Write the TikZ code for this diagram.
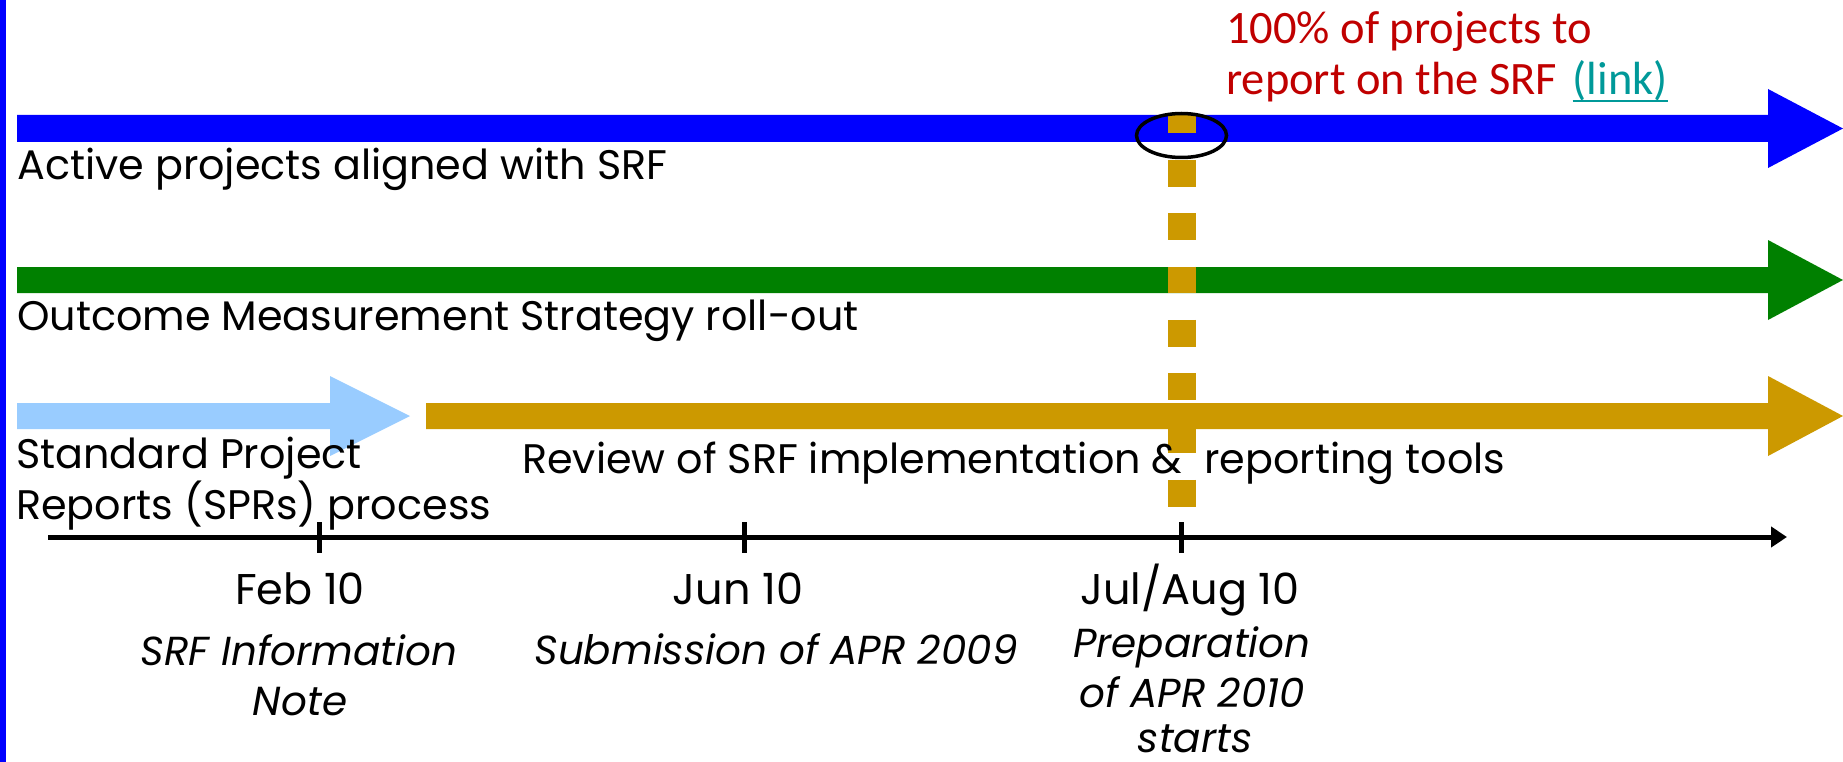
\documentclass[tikz,border=0pt]{standalone}
\usepackage{fontspec}
\setmainfont{Poppins}
\newfontfamily\calib{Carlito}
\usetikzlibrary{arrows.meta}
\definecolor{barblue}{HTML}{0000FF}
\definecolor{bargreen}{HTML}{008000}
\definecolor{barlight}{HTML}{99CCFF}
\definecolor{bargold}{HTML}{CC9900}
\definecolor{goalred}{HTML}{C00000}
\definecolor{linkteal}{HTML}{009999}
\begin{document}
\begin{tikzpicture}[x=1pt,y=-1pt,
  lbl/.style={inner sep=0pt, font=\fontsize{41.3}{48}\selectfont, anchor=base west},
  datelbl/.style={inner sep=0pt, font=\fontsize{43}{50}\selectfont, anchor=base},
  notelbl/.style={inner sep=0pt, font=\fontsize{40.5}{48}\selectfont\itshape, anchor=base},
  goal/.style={inner sep=0pt, font=\calib\fontsize{46.5}{54}\selectfont, text=goalred, anchor=base west},
  tick/.style={line width=5pt},
]
\useasboundingbox (0,0) rectangle (1843,762);
% left rule
\fill[barblue] (0,0) rectangle (6,762);
% arrows
\fill[barblue] (17,115) -- (1768,115) -- (1768,89) -- (1843,128.5) -- (1768,168) -- (1768,142) -- (17,142) -- cycle;
\fill[bargreen] (17,267) -- (1768,267) -- (1768,240) -- (1843,280) -- (1768,320) -- (1768,293) -- (17,293) -- cycle;
\fill[barlight] (17,403) -- (330,403) -- (330,376) -- (410,416) -- (330,456) -- (330,429) -- (17,429) -- cycle;
\fill[bargold] (426,403) -- (1768,403) -- (1768,376) -- (1843,416) -- (1768,456) -- (1768,429) -- (426,429) -- cycle;
% dashed vertical marker
\coordinate (mtop) at (1182,115);
\coordinate (mbot) at (1182,507);
\draw[bargold, line width=28pt, dash pattern=on 26.7pt off 26.6pt, dash phase=8.3pt] (mtop) -- (mbot);
% ellipse
\draw[line width=3.5pt] (1181.5,135.5) ellipse [x radius=45, y radius=22];
% timeline
\coordinate (t0) at (48,537);
\coordinate (t1) at (1787,537);
\draw[line width=5pt, -{Triangle[length=16pt,width=20pt]}] (t0) -- (t1);
\coordinate (k1) at (319,537);
\coordinate (k2) at (744,537);
\coordinate (k3) at (1181,537);
\foreach \k in {k1,k2,k3}{
  \draw[tick] ([yshift=15pt]\k) -- ([yshift=-16pt]\k);
}
% bar labels
\node[lbl] (active) at (17,179) {Active projects aligned with SRF};
\node[lbl] (oms) at (17,330) {Outcome Measurement Strategy roll-out};
\node[lbl] (sprA) at (16,468) {Standard Project};
\node[lbl] (sprB) at (16,519) {Reports (SPRs) process};
\node[lbl] (review) at (522,473) {Review of SRF implementation \&\ \ reporting tools};
% dates
\node[datelbl] (feb) at (300,604) {Feb 10};
\node[notelbl] (febA) at (299,665) {SRF Information};
\node[notelbl] (febB) at (300,715) {Note};
\node[datelbl] (jun) at (738,604) {Jun 10};
\node[notelbl] (junA) at (776,664) {Submission of APR 2009};
\node[datelbl] (jul) at (1190,604) {Jul/Aug 10};
\node[notelbl] (julA) at (1192,657) {Preparation};
\node[notelbl] (julB) at (1192,707) {of APR 2010};
\node[notelbl] (julC) at (1195,752) {starts};
% goal
\node[goal] (goalA) at (1226,44) {100\% of projects to};
\node[goal] (goalB) at (1226,95) {report on the SRF};
\node[goal, text=linkteal] (link) at ([xshift=15pt]goalB.base east) {(link)};
\draw[linkteal, line width=2.5pt] ([yshift=-6pt]link.base west) -- ([yshift=-6pt]link.base east);
\end{tikzpicture}
\end{document}
